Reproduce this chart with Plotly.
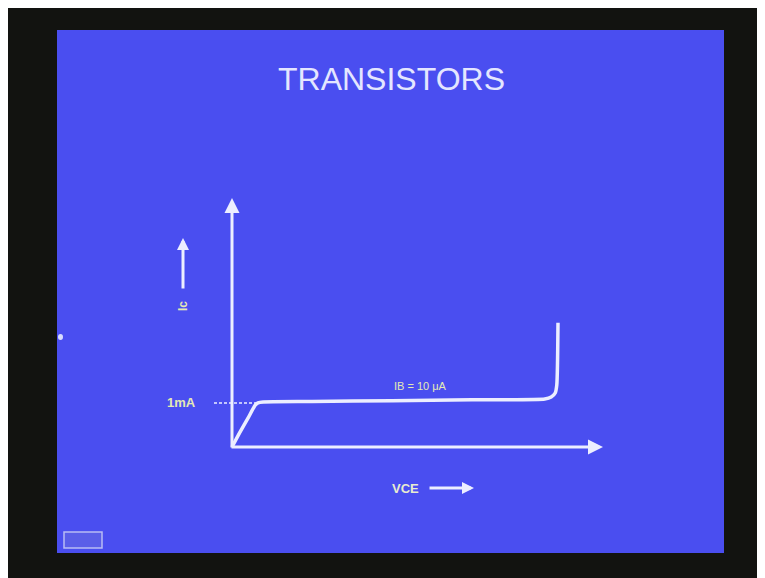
import plotly.graph_objects as go

# ---- data (VCE in volts, IC in mA) ----
vce = [0.0, 1.0, 2.0, 2.9, 3.25, 3.9, 10.0, 20.0, 30.0, 39.1, 39.9, 40.4, 40.6, 40.75]
ic = [0.0, 0.33, 0.64, 0.93, 0.98, 1.0, 1.01, 1.03, 1.05, 1.067, 1.11, 1.2, 1.38, 2.76]
ib_label = "IB = 10 μA"
ic_ref_label = "1mA"
ic_ref = 0.98
title = "TRANSISTORS"

# ---- layout geometry (screen pixels; page body offsets figure by 8px) ----
W, H = 765, 578
OFF = 8
OX, OY = 232, 447      # screen pixel of origin
SX, SY = 8.0, 45.0     # px per V, px per mA


def dx(p):
    return (p - OX) / SX


def dy(p):
    return (OY - p) / SY


def pxp(p):
    return (p - OFF) / W


def pyp(p):
    return 1 - (p - OFF) / H


LINE = "#eceeff"
LABEL = "#e4e9b4"
BLUE = "#4a4ef0"
BLACK = "#121310"

fig = go.Figure()
fig.add_trace(go.Scatter(x=vce, y=ic, mode="lines",
                         line=dict(color=LINE, width=3.5, shape="spline", smoothing=0.6),
                         hoverinfo="skip", showlegend=False))
# dashed reference line at 1 mA
fig.add_trace(go.Scatter(x=[dx(214), dx(256)], y=[ic_ref, ic_ref], mode="lines",
                         line=dict(color=LINE, width=1.5, dash="3px,2px"),
                         hoverinfo="skip", showlegend=False))

shapes = [
    dict(type="rect", xref="paper", yref="paper", x0=pxp(57), x1=pxp(724), y0=pyp(553), y1=pyp(30),
         fillcolor=BLUE, line_width=0, layer="below"),
    dict(type="rect", xref="paper", yref="paper", x0=pxp(64), x1=pxp(102), y0=pyp(548), y1=pyp(532),
         fillcolor="#5a5ee8", line=dict(color="#b8bcf4", width=1.5), layer="below"),
    dict(type="circle", xref="paper", yref="paper", x0=pxp(58), x1=pxp(63), y0=pyp(340), y1=pyp(334),
         fillcolor="#d8dcff", line_width=0, layer="below"),
]

arrow = dict(xref="x", yref="y", axref="x", ayref="y", showarrow=True, text="",
             arrowhead=2, arrowcolor=LINE)
annotations = [
    dict(arrow, x=0, y=dy(198), ax=0, ay=dy(449), arrowwidth=3, arrowsize=1.0),
    dict(arrow, x=dx(603), y=0, ax=dx(230), ay=0, arrowwidth=3, arrowsize=1.0),
    dict(arrow, x=dx(183), y=dy(238), ax=dx(183), ay=dy(290), arrowwidth=3, arrowsize=0.8),
    dict(arrow, x=dx(474), y=dy(488), ax=dx(428), ay=dy(488), arrowwidth=3, arrowsize=0.8),
    dict(xref="paper", yref="paper", x=pxp(391), y=pyp(79), xanchor="center", yanchor="middle",
         text=title, showarrow=False,
         font=dict(family="Liberation Sans, Arial", size=32, color="#e4e6ff")),
    dict(xref="x", yref="y", x=dx(181), y=dy(402), xanchor="center", yanchor="middle",
         text="<b>" + ic_ref_label + "</b>", showarrow=False,
         font=dict(family="Liberation Sans, Arial", size=13, color=LABEL)),
    dict(xref="x", yref="y", x=dx(420), y=dy(386), xanchor="center", yanchor="middle",
         text=ib_label, showarrow=False,
         font=dict(family="Liberation Sans, Arial", size=11, color=LABEL)),
    dict(xref="x", yref="y", x=dx(405), y=dy(488), xanchor="center", yanchor="middle",
         text="<b>VCE</b>", showarrow=False,
         font=dict(family="Liberation Sans, Arial", size=13, color="#e8ecd0")),
    dict(xref="x", yref="y", x=dx(183), y=dy(306), xanchor="center", yanchor="middle",
         text="<b>Ic</b>", showarrow=False, textangle=-90,
         font=dict(family="Liberation Sans, Arial", size=12, color=LABEL)),
]

fig.update_layout(
    width=W, height=H, autosize=False,
    margin=dict(l=0, r=0, t=0, b=0, pad=0),
    paper_bgcolor=BLACK, plot_bgcolor="rgba(0,0,0,0)",
    xaxis=dict(range=[dx(OFF), dx(OFF + W)], visible=False, fixedrange=True),
    yaxis=dict(range=[dy(OFF + H), dy(OFF)], visible=False, fixedrange=True),
    shapes=shapes, annotations=annotations, showlegend=False,
)
fig.write_html("out.html",
               post_script="document.documentElement.style.overflow='hidden';"
                           "document.body.style.overflow='hidden';")
